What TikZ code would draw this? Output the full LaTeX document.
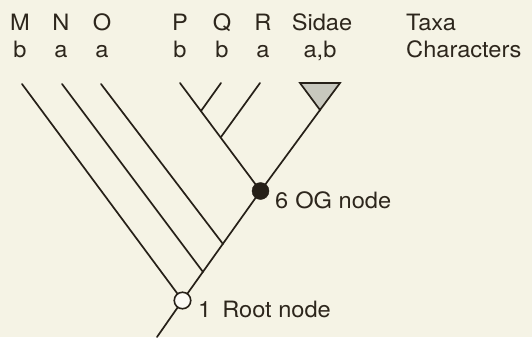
\documentclass[tikz,border=0pt]{standalone}
\usepackage{fontspec}
\setmainfont[FakeStretch=1.05]{TeX Gyre Heros}
\definecolor{bgcream}{RGB}{245,243,229}
\definecolor{ink}{RGB}{38,32,24}
\definecolor{txtink}{RGB}{45,38,28}
\definecolor{trifill}{RGB}{200,200,190}
\begin{document}
\begin{tikzpicture}[x=1pt,y=-1pt,
  branch/.style={draw=ink,line width=1.7pt,line cap=round},
  lbl/.style={inner sep=0pt,anchor=base,text=txtink,font=\fontsize{22.5}{27}\selectfont},
  lblw/.style={lbl,anchor=base west},
  ognode/.style={circle,fill=ink,draw=ink,minimum size=17pt,inner sep=0pt},
  rootnode/.style={circle,fill=white!60!bgcream,draw=ink,line width=1.6pt,minimum size=16.5pt,inner sep=0pt}]
\useasboundingbox[fill=bgcream] (0,0) rectangle (532,337);
% taxa and characters
\node[lbl] (tM) at (20,31) {M};
\node[lbl] (tN) at (61,31) {N};
\node[lbl] (tO) at (102,31) {O};
\node[lbl] (tP) at (180,31) {P};
\node[lbl] (tQ) at (222,31) {Q};
\node[lbl] (tR) at (263,31) {R};
\node[lbl] (tS) at (322,31) {Sidae};
\node[lblw] (tT) at (406,31) {Taxa};
\node[lbl] (cM) at (20,58) {b};
\node[lbl] (cN) at (61,58) {a};
\node[lbl] (cO) at (102,58) {a};
\node[lbl] (cP) at (180,58) {b};
\node[lbl] (cQ) at (222,58) {b};
\node[lbl] (cR) at (263,58) {a};
\node[lbl] (cS) at (320,58) {a,b};
\node[lblw] (cC) at (406,58) {Characters};
% coordinates
\coordinate (topM) at (22,84);
\coordinate (topN) at (62,84);
\coordinate (topO) at (101,84);
\coordinate (topP) at (180,83);
\coordinate (topQ) at (221,83);
\coordinate (topR) at (260,83);
\coordinate (triL) at (300,83);
\coordinate (triR) at (340,83);
\coordinate (triA) at (320,110);
\coordinate (jN) at (203,272);
\coordinate (jO) at (223,244);
\coordinate (jQ) at (201,111);
\coordinate (jR) at (221,137);
\coordinate (base) at (157,337);
\coordinate (root) at (182.5,300.5);
\coordinate (og) at (260.5,191);
% branches
\draw[branch] (topM) -- (root);
\draw[branch] (root) -- (base);
\draw[branch] (root) -- (og);
\draw[branch] (topN) -- (jN);
\draw[branch] (topO) -- (jO);
\draw[branch] (topP) -- (og);
\draw[branch] (topQ) -- (jQ);
\draw[branch] (topR) -- (jR);
\draw[branch] (triA) -- (og);
\draw[branch,fill=trifill,line join=miter] (triL) -- (triR) -- (triA) -- cycle;
% nodes
\node[ognode] (ogn) at (og) {};
\node[rootnode] (rootn) at (root) {};
\node[lblw] (ogl) at (275,208) {6\hspace{7pt}OG node};
\node[lblw] (rootl) at (198,317) {1\hspace{11pt}Root node};
\end{tikzpicture}
\end{document}
